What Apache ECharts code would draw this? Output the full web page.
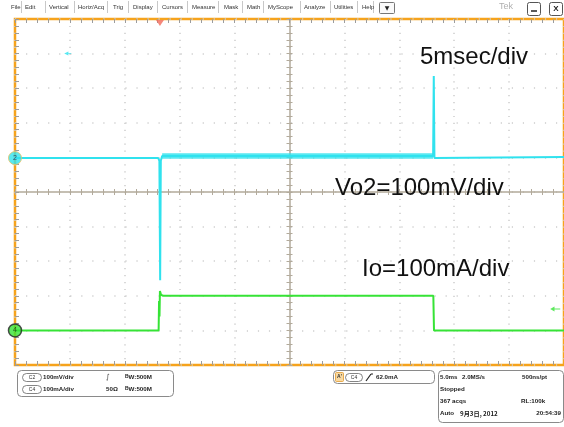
<!DOCTYPE html>
<html><head><meta charset="utf-8">
<script src="https://cdn.jsdelivr.net/npm/echarts@6/dist/echarts.min.js"></script>
<style>html,body{margin:0;padding:0;background:#fff}#c{width:564px;height:427px}</style>
</head><body><div id="c"></div>
<script>
// ---- data (time in ms, 5 ms/div; values in vertical divisions) ----
const timeRange = [-25, 25];
const divRange = [-5, 5];
const vo2Time = [-25, -11.95, -11.85, -11.78, -11.72, -11.6, 13.08, 13.14, 13.2, 13.36, 25];
const vo2Div  = [0.98, 0.98, 0.9, -2.55, 0.9, 1.04, 1.04, 3.35, 0.98, 1.01, 1.01];
const vo2NoisyTime = [-11.6, 13.08];
const vo2NoisyDiv  = [1.04, 1.04];
const ioTime = [-25, -11.92, -11.88, -11.84, -11.8, -11.7, -11.5, 13.1, 13.16, 25];
const ioDiv  = [-4, -4, -3.15, -3.6, -2.86, -2.97, -3.0, -3.0, -4, -4];
const chRefDiv = [0.98, -4];
const chLabels = ['2', '4'];
const trigTime = -11.8;
const trigLevelDiv = -3.38;
const refMarkTime = -20.2, refMarkDiv = 4;

const CYAN = '#30e2ee', GREEN = '#36e336', ORANGE = '#f6a31c';
const zip = (a, b) => a.map((v, i) => [v, b[i]]);

function ax(extra) {
  return Object.assign({
    type: 'value', axisLabel: {show: false}, splitLine: {show: false},
    axisLine: {show: false, onZero: false}, axisTick: {show: false}, minorTick: {show: false}
  }, extra);
}
const xBase = {min: timeRange[0], max: timeRange[1], interval: 5};
const yBase = {min: divRange[0], max: divRange[1], interval: 1};
const borderTick = {show: true, inside: true, length: 4, lineStyle: {color: '#9c9c9c', width: 1}};
const borderMinor = {show: true, splitNumber: 5, length: 4, lineStyle: {color: '#9c9c9c', width: 1}};
const crossCol = '#b2aa9b';

const option = {
  animation: false,
  backgroundColor: '#ffffff',
  grid: {show: true, left: 15, top: 19, width: 552, height: 346, borderColor: ORANGE, borderWidth: 2.5, backgroundColor: 'transparent'},
  xAxis: [
    ax(Object.assign({}, xBase, {position: 'bottom', axisTick: borderTick, minorTick: borderMinor,
      splitLine: {show: true, lineStyle: {color: '#cdcdcd', width: 1.5, type: [1.2, 5.72]}}})),
    ax(Object.assign({}, xBase, {position: 'top', axisTick: borderTick, minorTick: borderMinor})),
    ax(Object.assign({}, xBase, {position: 'bottom',
      axisLine: {show: true, onZero: true, onZeroAxisIndex: 0, lineStyle: {color: crossCol, width: 1.5}},
      axisTick: {show: true, inside: true, length: 3, lineStyle: {color: crossCol}},
      minorTick: {show: true, splitNumber: 5, length: 3, lineStyle: {color: crossCol}}})),
    ax(Object.assign({}, xBase, {position: 'bottom',
      axisLine: {show: false, onZero: true, onZeroAxisIndex: 0},
      axisTick: {show: true, inside: false, length: 3, lineStyle: {color: crossCol}},
      minorTick: {show: true, splitNumber: 5, length: 3, lineStyle: {color: crossCol}}}))
  ],
  yAxis: [
    ax(Object.assign({}, yBase, {position: 'left', axisTick: borderTick, minorTick: borderMinor,
      splitLine: {show: true, lineStyle: {color: '#cdcdcd', width: 1.5, type: [1.2, 9.84]}}})),
    ax(Object.assign({}, yBase, {position: 'left',
      axisLine: {show: true, onZero: true, onZeroAxisIndex: 0, lineStyle: {color: crossCol, width: 1.5}},
      axisTick: {show: true, inside: true, length: 3, lineStyle: {color: crossCol}},
      minorTick: {show: true, splitNumber: 5, length: 3, lineStyle: {color: crossCol}}})),
    ax(Object.assign({}, yBase, {position: 'left',
      axisLine: {show: false, onZero: true, onZeroAxisIndex: 0},
      axisTick: {show: true, inside: false, length: 3, lineStyle: {color: crossCol}},
      minorTick: {show: true, splitNumber: 5, length: 3, lineStyle: {color: crossCol}}}))
  ],
  series: [
    {type: 'line', data: zip(vo2NoisyTime, vo2NoisyDiv), showSymbol: false, silent: true,
      lineStyle: {color: CYAN, width: 5.5, opacity: 0.8}, z: 3},
    {type: 'line', data: zip(vo2Time, vo2Div), showSymbol: false, silent: true,
      lineStyle: {color: CYAN, width: 2}, z: 4},
    {type: 'line', data: zip(ioTime, ioDiv), showSymbol: false, silent: true,
      lineStyle: {color: GREEN, width: 2}, z: 4},
    {type: 'scatter', clip: false, silent: true, z: 10,
      data: [
        {value: [timeRange[0], chRefDiv[0]], symbol: 'circle', symbolSize: 13,
          itemStyle: {color: CYAN, borderColor: '#e8c060', borderWidth: 1},
          label: {show: true, position: 'inside', formatter: chLabels[0], color: '#225', fontSize: 7, fontFamily: 'Liberation Sans'}},
        {value: [timeRange[0], chRefDiv[1]], symbol: 'circle', symbolSize: 13,
          itemStyle: {color: GREEN, borderColor: '#222', borderWidth: 1.5},
          label: {show: true, position: 'inside', formatter: chLabels[1], color: '#131', fontSize: 7, fontFamily: 'Liberation Sans'}},
        {value: [trigTime, divRange[1]], symbol: 'triangle', symbolRotate: 180, symbolSize: [8, 6], symbolOffset: [0, 4],
          itemStyle: {color: '#f26a5a'}},
        {value: [refMarkTime, refMarkDiv], symbol: 'path://M0,5 L6,2 L6,8 Z M6,4.3 L10,4.3 L10,5.7 L6,5.7 Z', symbolSize: [7, 4],
          itemStyle: {color: CYAN}},
        {value: [24.2, trigLevelDiv], symbol: 'path://M0,5 L6,2 L6,8 Z M6,4.4 L14,4.4 L14,5.6 L6,5.6 Z', symbolSize: [10, 5],
          itemStyle: {color: GREEN}}
      ]}
  ],
  graphic: []
};

const g = option.graphic;
const F = 'Liberation Sans';
function txt(x, y, text, font, fill, align, base) {
  g.push({type: 'text', x: x, y: y, z: 20, silent: true,
    style: {text: text, font: font, fill: fill || '#222', textAlign: align || 'left', textVerticalAlign: base || 'middle'}});
}
function rect(x, y, w, h, r, stroke, fill, lw) {
  g.push({type: 'rect', z: 19, silent: true, shape: {x: x, y: y, width: w, height: h, r: r || 0},
    style: {stroke: stroke || 'none', fill: fill || 'none', lineWidth: lw || 1}});
}
function line(x1, y1, x2, y2, c, w) {
  g.push({type: 'line', z: 19, silent: true, shape: {x1: x1, y1: y1, x2: x2, y2: y2}, style: {stroke: c, lineWidth: w || 1}});
}

// annotations
txt(420, 69, '5msec/div', '24px "' + F + '"', '#111', 'left', 'bottom');
txt(335, 200, 'Vo2=100mV/div', '24px "' + F + '"', '#111', 'left', 'bottom');
txt(362, 281, 'Io=100mA/div', '24px "' + F + '"', '#111', 'left', 'bottom');

// menu bar
const menuItems = ['File','Edit','Vertical','Horiz/Acq','Trig','Display','Cursors','Measure','Mask','Math','MyScope','Analyze','Utilities','Help'];
const menuX = [11, 25, 49, 78, 113, 133, 162, 192, 224, 247, 268, 304, 334, 362];
const sepX = [21, 45, 74, 107, 128, 157, 187, 218, 242, 263, 300, 330, 357, 373];
menuItems.forEach((m, i) => txt(menuX[i], 7, m, '6px "' + F + '"', '#333'));
sepX.forEach(x => line(x + 0.5, 1, x + 0.5, 13, '#c8c8c8', 1));
rect(379.5, 2.5, 15, 11, 1, '#777', '#fafafa', 1);
txt(387, 8, '▼', '6px "DejaVu Sans"', '#222', 'center');
txt(506, 7, 'Tek', '9px "' + F + '"', '#b0b0b0', 'center');
rect(527.5, 2.5, 13, 13, 2, '#555', '#fff', 1);
line(531, 11, 537, 11, '#222', 1.5);
rect(549.5, 2.5, 13, 13, 2, '#555', '#fff', 1);
txt(556, 9, 'X', 'bold 8px "' + F + '"', '#222', 'center');

// bottom status boxes
const B = 'bold 6.2px "' + F + '"';
rect(17.5, 370.5, 156, 26, 4, '#8a8a8a', 'none', 1);
rect(22.5, 373.5, 19, 8, 4, '#666', 'none', 0.8);
txt(32, 377.5, 'C2', '5px "' + F + '"', '#333', 'center');
txt(43, 377.5, '100mV/div', B);
txt(106, 377.5, '∫', '7px "DejaVu Sans"', '#333');
txt(125, 377, '{s|B}{n|W:500M}', B);
rect(22.5, 385.5, 19, 8, 4, '#666', 'none', 0.8);
txt(32, 389.5, 'C4', '5px "' + F + '"', '#333', 'center');
txt(43, 389.5, '100mA/div', B);
txt(106, 389.5, '50Ω', B);
txt(125, 389, '{s|B}{n|W:500M}', B);

rect(333.5, 370.5, 101, 13, 4, '#8a8a8a', 'none', 1);
rect(335.5, 372.5, 8, 9, 1, '#e39a2c', '#f8d9a2', 0.8);
txt(339.5, 377, "A'", 'bold 5px "' + F + '"', '#333', 'center');
rect(345.5, 373.5, 17, 8, 4, '#666', 'none', 0.8);
txt(354, 377.5, 'C4', '5px "' + F + '"', '#333', 'center');
line(366, 381, 371, 374, '#222', 1.2);
line(371, 374, 373, 374, '#222', 1.2);
txt(376, 377.5, '62.0mA', B);

rect(438.5, 370.5, 125, 52, 4, '#8a8a8a', 'none', 1);
txt(440, 377.5, '5.0ms', B);
txt(462, 377.5, '2.0MS/s', B);
txt(522, 377.5, '500ns/pt', B);
txt(440, 389.5, 'Stopped', B);
txt(440, 401.5, '367 acqs', B);
txt(521, 401.5, 'RL:100k', B);
txt(440, 413.5, 'Auto', B);
txt(460, 413.5, '9月3日, 2012', 'bold 6.2px "Noto Sans CJK JP"');
txt(561, 413.5, '20:54:39', B, '#222', 'right');

// rich text for B_W
g.forEach(el => {
  if (el.type === 'text' && el.style.text.indexOf('{s|') === 0) {
    el.style.rich = {s: {fontSize: 5, fontWeight: 'bold', fontFamily: F, fill: '#222', verticalAlign: 'top'}, n: {fontSize: 6.2, fontWeight: 'bold', fontFamily: F, fill: '#222'}};
  }
});

const chart = echarts.init(document.getElementById('c'), null, {renderer: 'canvas'});
chart.setOption(option);
</script>
</body></html>
